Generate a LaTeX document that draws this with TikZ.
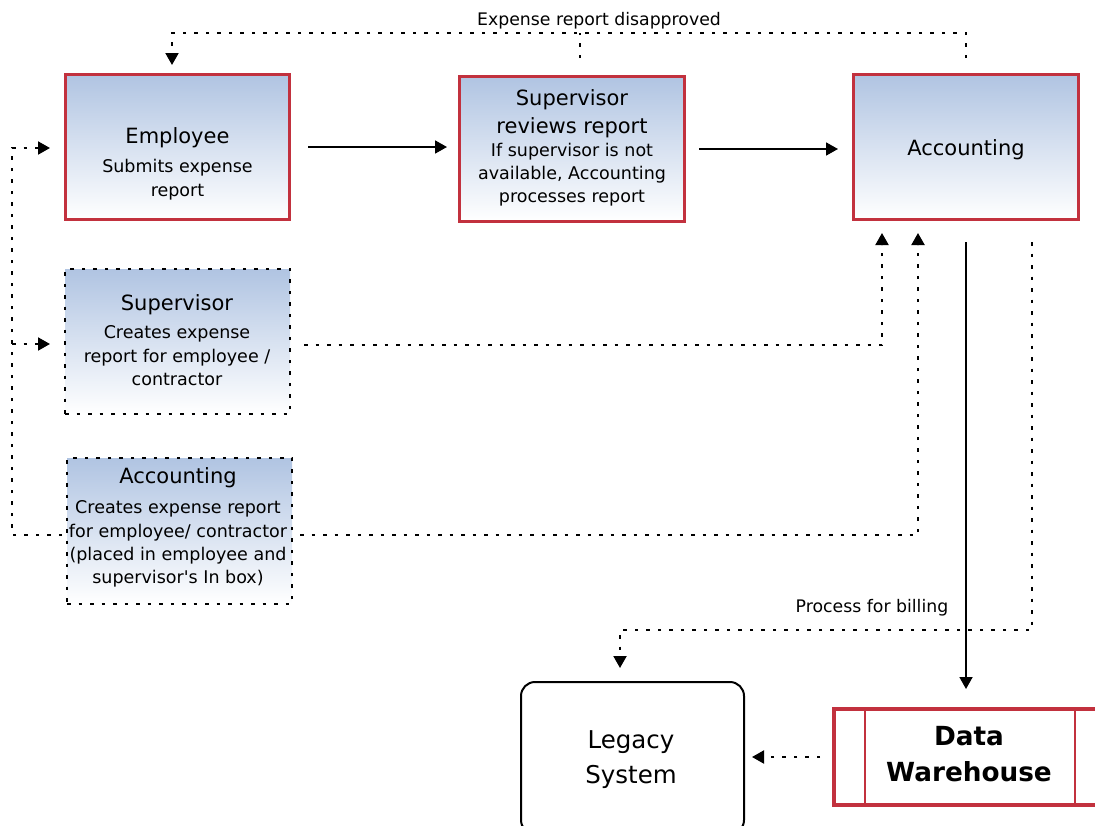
\documentclass[tikz,border=0pt]{standalone}
\usepackage{fontspec}
\setmainfont{DejaVu Sans}
\usetikzlibrary{arrows.meta,calc}
\definecolor{boxred}{RGB}{194,49,62}
\definecolor{boxblue}{RGB}{176,196,226}
\newcommand{\myline}[4]{\node[anchor=base,inner sep=0pt,font=#1] (#2) at (#3) {#4};}
\newcommand{\ftitle}{\fontsize{21}{26}\selectfont}
\newcommand{\fsub}{\fontsize{17.5}{22}\selectfont}
\newcommand{\flab}{\fontsize{17.3}{22}\selectfont}
\newcommand{\fbig}{\fontsize{24.5}{30}\selectfont}
\newcommand{\fdw}{\fontsize{26.3}{32}\selectfont\bfseries}
\begin{document}
\begin{tikzpicture}[x=1pt,y=-1pt,
 procbox/.style={draw=boxred,line width=3pt,top color=boxblue,bottom color=white,inner sep=0pt,outer sep=0pt},
 altbox/.style={draw=black,line width=2pt,dash pattern=on 3.5pt off 8pt,top color=boxblue,bottom color=white,inner sep=0pt,outer sep=0pt},
 flow/.style={line width=1.8pt,-{Triangle[length=12pt,width=13pt]}},
 dotflow/.style={line width=2pt,dash pattern=on 3.5pt off 8pt,-{Triangle[length=12pt,width=13pt]}},
 dotline/.style={line width=2pt,dash pattern=on 3.5pt off 8pt}]
\useasboundingbox (0,0) rectangle (1095,825);
\clip (0,0) rectangle (1095,825);

% boxes
\node[procbox,minimum width=224pt,minimum height=145pt] (emp) at (177.5,147) {};
\node[procbox,minimum width=225pt,minimum height=145pt] (sup) at (572,149) {};
\node[procbox,minimum width=225pt,minimum height=145pt] (acc) at (966,147) {};
\node[altbox,minimum width=225pt,minimum height=145pt] (sup2) at (177.5,341.5) {};
\node[altbox,minimum width=225pt,minimum height=146pt] (acc2) at (179.5,531) {};
\node[draw=black,line width=2pt,rounded corners=14pt,minimum width=223pt,minimum height=152pt,inner sep=0pt,outer sep=0pt] (legacy) at (632.5,758) {};
\node[draw=boxred,line width=3.5pt,fill=white,minimum width=272pt,minimum height=96pt,inner sep=0pt,outer sep=0pt] (dw) at (970,757) {};
\draw[boxred,line width=1.5pt] ($(dw.north west)+(31,0)$) -- ($(dw.south west)+(31,0)$);
\draw[boxred,line width=1.5pt] ($(dw.north east)+(-31,0)$) -- ($(dw.south east)+(-31,0)$);

% texts
\myline{\ftitle}{t1}{177.5,143}{Employee}
\myline{\fsub}{t2}{177.5,172}{Submits expense}
\myline{\fsub}{t3}{177.5,196}{report}

\myline{\ftitle}{t4}{572,105}{Supervisor}
\myline{\ftitle}{t5}{572,133}{reviews report}
\myline{\fsub}{t6}{572,156}{If supervisor is not}
\myline{\fsub}{t7}{572,179}{available, Accounting}
\myline{\fsub}{t8}{572,202}{processes report}

\myline{\ftitle}{t9}{966,155}{Accounting}

\myline{\ftitle}{t10}{177,310}{Supervisor}
\myline{\fsub}{t11}{177,338}{Creates expense}
\myline{\fsub}{t12}{177,362}{report for employee /}
\myline{\fsub}{t13}{177,385}{contractor}

\myline{\ftitle}{t14}{178,483}{Accounting}
\myline{\fsub}{t15}{178,513}{Creates expense report}
\myline{\fsub}{t16}{178,537}{for employee/ contractor}
\myline{\fsub}{t17}{178,560}{(placed in employee and}
\myline{\fsub}{t18}{178,583}{supervisor\textquotesingle s In box)}

\myline{\fbig}{t19}{631,748}{Legacy}
\myline{\fbig}{t20}{631,783}{System}

\myline{\fdw}{t21}{969,745}{Data}
\myline{\fdw}{t22}{969,781}{Warehouse}

\myline{\flab}{lab1}{599,25}{Expense report disapproved}
\myline{\flab}{lab2}{872,612}{Process for billing}

% coordinates
\coordinate (cTR) at (966,33);
\coordinate (cTL) at (172,33);
\coordinate (cTick) at (580,33);
\coordinate (L1) at (12,148);
\coordinate (L2) at (12,344);
\coordinate (L3) at (12,535);
\coordinate (R1) at (882,345);
\coordinate (R2) at (918,535);
\coordinate (B1) at (1032,630);
\coordinate (B2) at (620,630);

% connectors
\draw[dotflow,shorten <=16.5pt,shorten >=9.5pt] (acc.north) -- (cTR) -- (cTL) -- (cTL |- emp.north);
\draw[dotline,shorten <=18.5pt] (cTick |- sup.north) -- (cTick);
\draw[flow,shorten <=18.5pt,shorten >=12.5pt] (emp.east) -- (emp.east -| sup.west);
\draw[flow,shorten <=14.5pt,shorten >=15.5pt] (sup.east) -- (sup.east -| acc.west);
\draw[dotflow,shorten <=5pt,shorten >=15.5pt] (acc2.west |- L3) -- (L3) -- (L1) -- (L1 -| emp.west);
\draw[dotflow,shorten >=15pt] (L2) -- (L2 -| sup2.west);
\draw[dotflow,shorten <=14pt,shorten >=13.5pt] (sup2.east |- R1) -- (R1) -- (R1 |- acc.south);
\draw[dotflow,shorten <=8pt,shorten >=13.5pt] (acc2.east |- R2) -- (R2) -- (R2 |- acc.south);
\draw[flow,shorten <=22.5pt,shorten >=20pt] (acc.south) -- (acc.south |- dw.north);
\draw[dotflow,shorten <=22.5pt,shorten >=14pt] (B1 |- acc.south) -- (B1) -- (B2) -- (B2 |- legacy.north);
\draw[dotflow,shorten <=14pt,shorten >=8pt] (dw.west) -- (dw.west -| legacy.east);
\end{tikzpicture}
\end{document}
